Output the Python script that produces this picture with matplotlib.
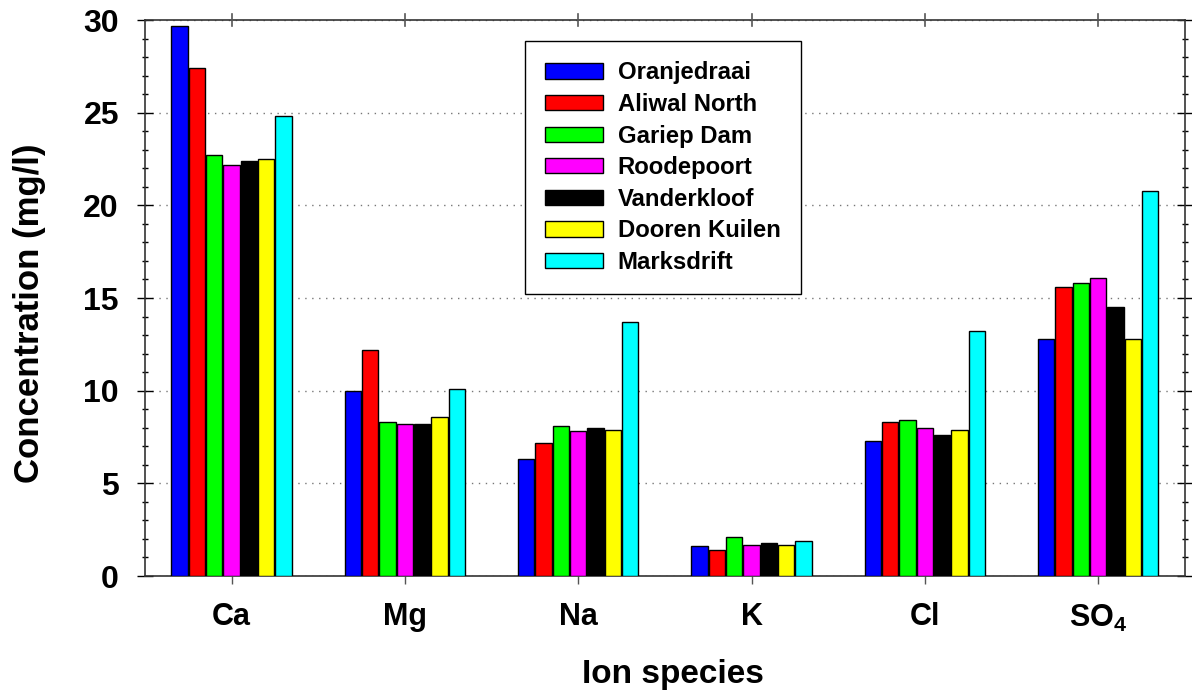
import matplotlib
matplotlib.use("Agg")
import matplotlib.pyplot as plt
import numpy as np
from matplotlib.ticker import MultipleLocator

plt.rcParams['font.family'] = ['Liberation Sans', 'DejaVu Sans']
plt.rcParams['mathtext.fontset'] = 'custom'
plt.rcParams['mathtext.rm'] = 'Liberation Sans:bold'
plt.rcParams['mathtext.bf'] = 'Liberation Sans:bold'

ions = ['Ca', 'Mg', 'Na', 'K', 'Cl', r'SO$_\mathbf{4}$']
sites = ['Oranjedraai', 'Aliwal North', 'Gariep Dam', 'Roodepoort',
         'Vanderkloof', 'Dooren Kuilen', 'Marksdrift']
colors = ['#0000ff', '#ff0000', '#00ff00', '#ff00ff', '#000000', '#ffff00', '#00ffff']

# concentration (mg/l), one list per site, in ion order
oranjedraai = [29.7, 10.0, 6.3, 1.6, 7.3, 12.8]
aliwal_north = [27.4, 12.2, 7.2, 1.4, 8.3, 15.6]
gariep_dam = [22.7, 8.3, 8.1, 2.1, 8.4, 15.8]
roodepoort = [22.2, 8.2, 7.8, 1.7, 8.0, 16.1]
vanderkloof = [22.4, 8.2, 8.0, 1.8, 7.6, 14.5]
dooren_kuilen = [22.5, 8.6, 7.9, 1.7, 7.9, 12.8]
marksdrift = [24.8, 10.1, 13.7, 1.9, 13.2, 20.8]
series = [oranjedraai, aliwal_north, gariep_dam, roodepoort,
          vanderkloof, dooren_kuilen, marksdrift]

fig = plt.figure(figsize=(11.92, 6.93), dpi=100)
ax = fig.add_axes([0.1216, 0.1688, 0.8725, 0.8023])

x = np.arange(len(ions))
w = 0.1
for i, (name, vals) in enumerate(zip(sites, series)):
    ax.bar(x + (i - 3) * w, vals, width=w * 0.94, color=colors[i],
           edgecolor='black', linewidth=1.0, label=name, zorder=3)

ax.set_xlim(-0.5, 5.5)
ax.set_ylim(0, 30)
ax.yaxis.set_major_locator(MultipleLocator(5))
ax.yaxis.set_minor_locator(MultipleLocator(1))
ax.set_xticks(x)
ax.set_xticklabels(ions, fontsize=22, fontweight='bold')
ax.set_yticks([0, 5, 10, 15, 20, 25, 30])
ax.set_yticklabels(['0', '5', '10', '15', '20', '25', '30'], fontsize=23, fontweight='bold')

ax.tick_params(axis='y', which='major', direction='inout', length=11.5, width=1.0,
               left=True, right=True, pad=13)
ax.tick_params(axis='y', which='minor', direction='inout', length=5, width=1.0,
               left=True, right=True)
ax.tick_params(axis='x', which='major', direction='out', length=6, width=1.0,
               bottom=True, top=False, pad=13, color='#555555')
for xi in x:
    ax.plot([xi, xi], [30 - 0.3, 30 + 0.3], color='#555555', lw=1.2,
            clip_on=False, zorder=5)

ax.grid(axis='y', which='major', linestyle=(0, (1, 4)), color='#777777',
        linewidth=1.0, zorder=0)
for s in ax.spines.values():
    s.set_linewidth(1.2)
    s.set_color('#333333')

ax.set_xlabel('Ion species', fontsize=24, fontweight='bold', labelpad=18)
ax.xaxis.label.set_x(0.508)
ax.set_ylabel('Concentration (mg/l)', fontsize=25, fontweight='bold', labelpad=27)
ax.yaxis.label.set_y(0.473)

leg = ax.legend(loc='upper left', bbox_to_anchor=(0.365, 0.962),
                prop={'weight': 'bold', 'size': 17.2}, frameon=True, fancybox=False,
                edgecolor='black', framealpha=1.0, handlelength=2.45,
                handleheight=0.6, handletextpad=0.6, labelspacing=0.36,
                borderpad=0.85, borderaxespad=0)
leg.get_frame().set_linewidth(1.0)
leg.set_zorder(10)

fig.savefig('out.png', dpi=100)
